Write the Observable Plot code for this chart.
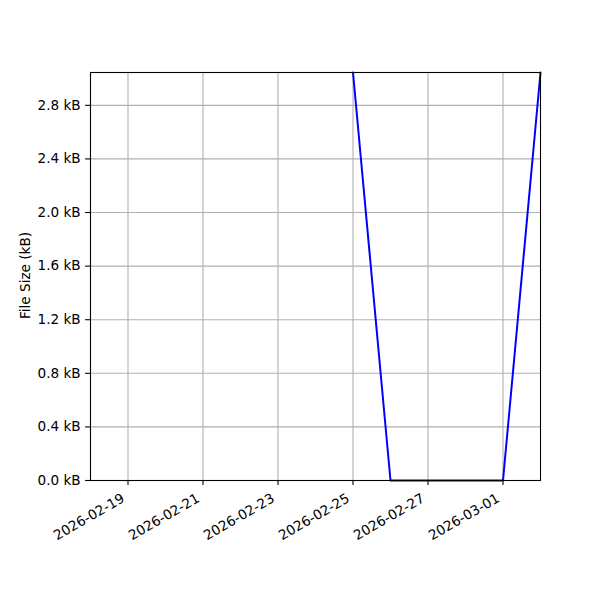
<!DOCTYPE html>
<html>
<head>
<meta charset="utf-8">
<script src="https://cdn.jsdelivr.net/npm/d3@7"></script>
<script src="https://cdn.jsdelivr.net/npm/@observablehq/plot@0.6"></script>
<style>
  html, body { margin: 0; padding: 0; background: #fff; }
  #chart svg { font-family: "DejaVu Sans", sans-serif; }
</style>
</head>
<body>
<div id="chart"></div>
<script>
// Data
const dates = ["2026-02-25", "2026-02-26", "2026-02-27", "2026-02-28", "2026-03-01", "2026-03-02"];
const sizesKB = [3.045, 0, 0, 0, 0, 3.045];
const xTickLabels = ["2026-02-19", "2026-02-21", "2026-02-23", "2026-02-25", "2026-02-27", "2026-03-01"];
const yTickValues = [0, 0.4, 0.8, 1.2, 1.6, 2.0, 2.4, 2.8];
const xDomain = ["2026-02-18", "2026-03-02"];
const yDomain = [0, 3.045];
const yLabel = "File Size (kB)";

const parse = d3.utcParse("%Y-%m-%d");
const table = dates.map((d, i) => ({date: parse(d), size: sizesKB[i]}));
const xTicks = xTickLabels.map(parse);
const fmtDate = d3.utcFormat("%Y-%m-%d");

const chart = Plot.plot({
  width: 600,
  height: 600,
  marginLeft: 90,
  marginRight: 60,
  marginTop: 72,
  marginBottom: 120,
  style: {fontSize: "13.6px", fontFamily: "DejaVu Sans", color: "black", background: "white"},
  x: {type: "utc", domain: xDomain.map(parse)},
  y: {domain: yDomain},
  marks: [
    Plot.gridX(xTicks, {stroke: "#b0b0b0", strokeOpacity: 1, strokeWidth: 1.1}),
    Plot.gridY(yTickValues, {stroke: "#b0b0b0", strokeOpacity: 1, strokeWidth: 1.1}),
    Plot.line(table, {x: "date", y: "size", stroke: "#0000ff", strokeWidth: 2}),
    Plot.axisY(yTickValues, {tickFormat: d => d.toFixed(1) + " kB", tickSize: 4.9, tickPadding: 4.9, label: null, strokeWidth: 1.1}),
    Plot.axisX(xTicks, {tickFormat: () => "", tickSize: 4.9, label: null, strokeWidth: 1.1}),
    Plot.text(xTicks, {x: d => d, frameAnchor: "bottom", text: d => fmtDate(d), rotate: -30, textAnchor: "end", lineAnchor: "bottom", dx: -2.5, dy: 20.5, fill: "black"}),
    Plot.text([yLabel], {frameAnchor: "left", text: d => d, rotate: -90, textAnchor: "middle", lineAnchor: "bottom", dx: -61, dy: -1, fill: "black"}),
    Plot.frame({stroke: "black", strokeWidth: 1.1})
  ]
});
document.getElementById("chart").appendChild(chart);
</script>
</body>
</html>
